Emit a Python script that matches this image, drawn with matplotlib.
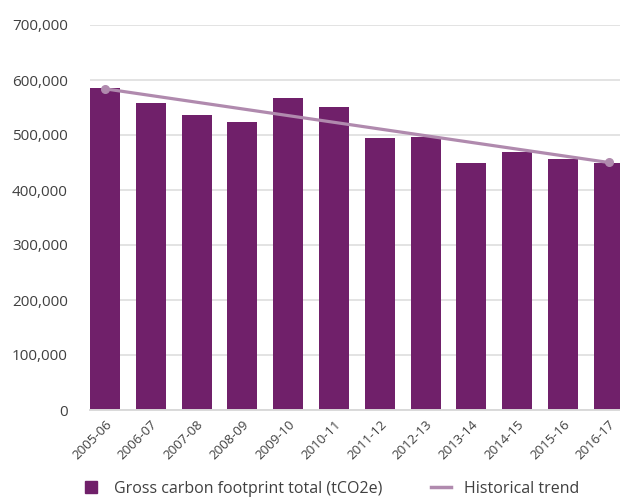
import matplotlib
matplotlib.use("Agg")
import matplotlib.pyplot as plt
from matplotlib.lines import Line2D
from matplotlib.ticker import FuncFormatter, MultipleLocator

categories = ["2005-06", "2006-07", "2007-08", "2008-09", "2009-10", "2010-11",
              "2011-12", "2012-13", "2013-14", "2014-15", "2015-16", "2016-17"]
footprint = [585500, 558000, 536000, 524000, 567000, 551000,
             494500, 497000, 449000, 469000, 456000, 449000]
trend_ends = [584000, 450000]

bar_color = "#70206A"
trend_color = "#B08AAE"
text_color = "#404040"
grid_color = "#E3E3E3"

plt.rcParams['font.family'] = ['Open Sans', 'DejaVu Sans']

fig = plt.figure(figsize=(6.2, 4.97), dpi=100)
ax = fig.add_axes([90/620, 87/497, 549.6/620, 385/497])

x = list(range(len(categories)))
ax.bar(x, footprint, width=0.655, color=bar_color, zorder=2)
ax.plot([x[0], x[-1]], trend_ends, color=trend_color, lw=2.3, marker='o',
        markersize=5.5, zorder=3, solid_capstyle='round')

ax.set_ylim(0, 700000)
ax.set_xlim(-0.327, 11.673)
ax.yaxis.set_major_locator(MultipleLocator(100000))
ax.yaxis.set_major_formatter(FuncFormatter(lambda v, p: f"{int(v):,}"))
ax.grid(axis='y', color=grid_color, lw=1.4, zorder=0)
ax.set_axisbelow(True)
for s in ['top', 'right', 'left']:
    ax.spines[s].set_visible(False)
ax.spines['bottom'].set_color("#D9D9D9")
ax.spines['bottom'].set_linewidth(1.4)
ax.tick_params(axis='both', length=0, colors=text_color)
ax.tick_params(axis='y', labelsize=11, pad=16)
ax.set_xticks(x)
ax.set_xticklabels(categories, rotation=45, ha='right', rotation_mode='anchor',
                   fontsize=9.5)
ax.tick_params(axis='x', pad=6)

handles = [Line2D([0], [0], marker='s', color='none', markerfacecolor=bar_color,
                  markeredgecolor=bar_color, markersize=9),
           Line2D([0], [0], color=trend_color, lw=2.5)]
fig.legend(handles, ["Gross carbon footprint total (tCO2e)", "Historical trend"],
           loc='center', bbox_to_anchor=(330/620, 1 - 489/497), ncol=2,
           frameon=False, fontsize=11.5, handlelength=1.3, columnspacing=3.0,
           handletextpad=0.8, labelcolor=text_color)

fig.savefig("out.png", dpi=100)
